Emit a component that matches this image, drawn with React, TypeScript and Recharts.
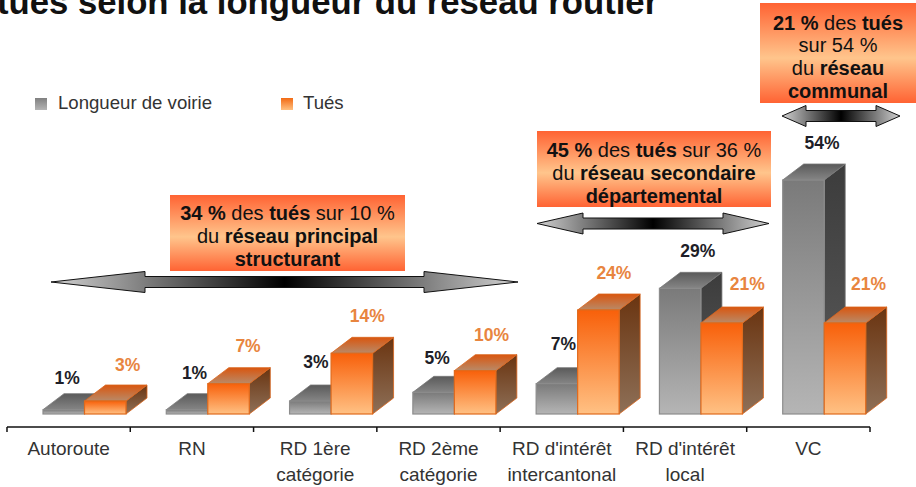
import React from "react";
import { BarChart, Bar, XAxis, YAxis, Legend, LabelList } from "recharts";

const categories = ["Autoroute", "RN", "RD 1ère\ncatégorie", "RD 2ème\ncatégorie", "RD d'intérêt\nintercantonal", "RD d'intérêt\nlocal", "VC"];
const longueur = [1, 1, 3, 5, 7, 29, 54];
const tues = [3, 7, 14, 10, 24, 21, 21];
const longueurNudgeX = [-7, -3, -5, -7, -4, 7, 8];
const longueurNudgeY = [-16, -21, -23, -19, -24, -22, -21];
const tuesNudgeX = [12, 9, 5, 6, 5, 15, 13];
const tuesNudgeY = [-20, -22, -22, -20, -21, -23, -23];

const rows = categories.map((c, i) => ({ cat: c, longueur: longueur[i], tues: tues[i] }));

const FONT = "'Liberation Sans', Arial, sans-serif";
const SHIFT = 16, DX = 21, DY = 16;
const pts = (a: number[][]) => a.map((p) => p.join(",")).join(" ");

function Box3D(props: any, kind: "g" | "o") {
  const { x: x0, y, width: w, height: h } = props;
  const x = x0 + SHIFT;
  const stroke = kind === "g" ? "#8c8c8c" : "#e06a1c";
  const edge = kind === "g" ? "#777777" : "#d9641c";
  return (
    <g>
      <polygon points={pts([[x + w, y], [x + w + DX, y - DY], [x + w + DX, y + h - DY], [x + w, y + h]])} fill={`url(#${kind}Side)`} stroke={edge} strokeWidth={0.8} />
      <polygon points={pts([[x, y], [x + DX, y - DY], [x + w + DX, y - DY], [x + w, y]])} fill={`url(#${kind}Top)`} stroke={edge} strokeWidth={0.8} />
      <rect x={x} y={y} width={w} height={h} fill={`url(#${kind}Front)`} stroke={stroke} strokeWidth={1.2} />
    </g>
  );
}

const makeLabel = (color: string, nx: number[], ny: number[]) => (p: any) => {
  const { x, y, width, value, index } = p;
  return (
    <text x={x + SHIFT + width / 2 + DX / 2 + nx[index]} y={y - DY + ny[index]} dy="0.36em" textAnchor="middle"
      fontFamily={FONT} fontWeight="bold" fontSize={17.5} fill={color}>
      {value}%
    </text>
  );
};

const STEP = 123.3;
function AxisTick(props: any) {
  const { x, payload, index } = props;
  const lines = String(payload.value).split("\n");
  const left = x - STEP / 2;
  return (
    <g>
      <line x1={left} x2={left} y1={427} y2={432} stroke="#111" strokeWidth={1.5} />
      {index === categories.length - 1 && <line x1={left + STEP} x2={left + STEP} y1={427} y2={432} stroke="#111" strokeWidth={1.5} />}
      {lines.map((l, i) => (
        <text key={i} x={x} y={455 + i * 26} textAnchor="middle" fontFamily={FONT} fontSize={19} fill="#333">{l}</text>
      ))}
    </g>
  );
}

function LegendBox() {
  const items = [["Longueur de voirie", "gLegend", 35, 58], ["Tués", "oLegend", 281, 303]] as const;
  return (
    <div style={{ position: "relative", width: 400, height: 24, fontFamily: FONT, fontSize: 18.6, color: "#333" }}>
      {items.map(([t, g, sx, tx]) => (
        <React.Fragment key={t}>
          <svg style={{ position: "absolute", left: sx - 25, top: 6, width: 12, height: 12 }}>
            <defs>
              <linearGradient id={g} x1="0" y1="0" x2="0" y2="1">
                <stop offset="0" stopColor={g === "gLegend" ? "#808080" : "#f26a14"} />
                <stop offset="1" stopColor={g === "gLegend" ? "#b4b4b4" : "#ffc080"} />
              </linearGradient>
            </defs>
            <rect width={12} height={12} fill={`url(#${g})`} />
          </svg>
          <span style={{ position: "absolute", left: tx - 25, top: 0, lineHeight: "22px", whiteSpace: "nowrap" }}>{t}</span>
        </React.Fragment>
      ))}
    </div>
  );
}

type Seg = [string, boolean];
const B = (s: string): Seg => [s, true];
const N = (s: string): Seg => [s, false];
const notes: { x: number; y: number; w: number; h: number; ys: number[]; lines: Seg[][] }[] = [
  { x: 170, y: 195, w: 235, h: 76, ys: [213, 236, 259], lines: [[B("34 %"), N(" des "), B("tués"), N(" sur 10 %")], [N("du "), B("réseau principal")], [B("structurant")]] },
  { x: 537, y: 131, w: 234, h: 76, ys: [150, 173, 196], lines: [[B("45 %"), N(" des "), B("tués"), N(" sur 36 %")], [N("du "), B("réseau secondaire")], [B("départemental")]] },
  { x: 760, y: 3, w: 156, h: 100, ys: [23, 45, 68, 91], lines: [[B("21 %"), N(" des "), B("tués")], [N("sur 54 %")], [N("du "), B("réseau")], [B("communal")]] },
];
const arrows = [
  { x1: 51, x2: 518, y: 282, head: 94, id: "ar1" },
  { x1: 537, x2: 769, y: 223.5, head: 46, id: "ar2" },
  { x1: 782, x2: 900, y: 116, head: 24, id: "ar3" },
];

function Overlay() {
  return (
    <svg width={916} height={487} style={{ position: "absolute", left: 0, top: 0, pointerEvents: "none" }}>
      <defs>
        <linearGradient id="noteFill" x1="0" y1="0" x2="0" y2="1">
          <stop offset="0" stopColor="#ff6333" />
          <stop offset="0.55" stopColor="#ffc58c" />
          <stop offset="1" stopColor="#ff6333" />
        </linearGradient>
        <linearGradient id="arFill" x1="0" y1="0" x2="1" y2="0">
          <stop offset="0" stopColor="#d2d2d2" />
          <stop offset="0.5" stopColor="#000" />
          <stop offset="1" stopColor="#d2d2d2" />
        </linearGradient>
      </defs>
      <text x={-3} y={14} fontFamily={FONT} fontWeight="bold" fontSize={34.7} fill="#111">tués selon la longueur du réseau routier</text>
      {notes.map((n, i) => (
        <g key={i}>
          <rect x={n.x} y={n.y} width={n.w} height={n.h} fill="url(#noteFill)" />
          {n.lines.map((segs, j) => (
            <text key={j} x={n.x + n.w / 2} y={n.ys[j]} dy="0.36em" textAnchor="middle" fontFamily={FONT} fontSize={20} fill="#111">
              {segs.map(([t, b], k) => (
                <tspan key={k} fontWeight={b ? "bold" : "normal"}>{t}</tspan>
              ))}
            </text>
          ))}
        </g>
      ))}
      {arrows.map((a) => (
        <polygon key={a.id} fill="url(#arFill)" stroke="#111" strokeWidth={1}
          points={pts([
            [a.x1, a.y], [a.x1 + a.head, a.y - 10.5], [a.x1 + a.head, a.y - 5.5], [a.x2 - a.head, a.y - 5.5], [a.x2 - a.head, a.y - 10.5],
            [a.x2, a.y], [a.x2 - a.head, a.y + 10.5], [a.x2 - a.head, a.y + 5.5], [a.x1 + a.head, a.y + 5.5], [a.x1 + a.head, a.y + 10.5],
          ])} />
      ))}
    </svg>
  );
}

export default function App() {
  return (
    <div style={{ position: "absolute", left: 0, top: 0, width: 916, height: 487, overflow: "hidden", background: "#fff" }}>
      <BarChart width={916} height={487} data={rows} barSize={41.5} barGap={0} barCategoryGap={0}
        margin={{ top: 154, right: 46, bottom: 0, left: 7 }}>
        <defs>
          <linearGradient id="gFront" x1="0" y1="0" x2="0" y2="1">
            <stop offset="0" stopColor="#7a7a7a" />
            <stop offset="1" stopColor="#b5b5b5" />
          </linearGradient>
          <linearGradient id="gTop" x1="0" y1="0" x2="0" y2="1">
            <stop offset="0" stopColor="#5a5a5a" />
            <stop offset="1" stopColor="#858585" />
          </linearGradient>
          <linearGradient id="gSide" x1="0" y1="0" x2="0" y2="1">
            <stop offset="0" stopColor="#3c3c3c" />
            <stop offset="1" stopColor="#5c5c5c" />
          </linearGradient>
          <linearGradient id="oFront" x1="0" y1="0" x2="0" y2="1">
            <stop offset="0" stopColor="#f8600a" />
            <stop offset="1" stopColor="#ffc184" />
          </linearGradient>
          <linearGradient id="oTop" x1="0" y1="0" x2="0" y2="1">
            <stop offset="0" stopColor="#d9560f" />
            <stop offset="1" stopColor="#b98a68" />
          </linearGradient>
          <linearGradient id="oSide" x1="0" y1="0" x2="0" y2="1">
            <stop offset="0" stopColor="#6a3410" />
            <stop offset="1" stopColor="#8e7058" />
          </linearGradient>
        </defs>
        <XAxis dataKey="cat" interval={0} axisLine={{ stroke: "#111", strokeWidth: 1.5 }} tickLine={false} tick={<AxisTick />} height={60} />
        <YAxis hide domain={[-3, 60]} allowDataOverflow />
        <Legend layout="horizontal" verticalAlign="middle" align="center" content={<LegendBox />}
          wrapperStyle={{ position: "absolute", left: 25, top: 92, width: 400, height: 24 }} />
        <Bar dataKey="longueur" name="Longueur de voirie" isAnimationActive={false} shape={(p: any) => Box3D(p, "g")}>
          <LabelList dataKey="longueur" content={makeLabel("#1e1e28", longueurNudgeX, longueurNudgeY)} />
        </Bar>
        <Bar dataKey="tues" name="Tués" isAnimationActive={false} shape={(p: any) => Box3D(p, "o")}>
          <LabelList dataKey="tues" content={makeLabel("#e8853f", tuesNudgeX, tuesNudgeY)} />
        </Bar>
      </BarChart>
      <Overlay />
    </div>
  );
}
